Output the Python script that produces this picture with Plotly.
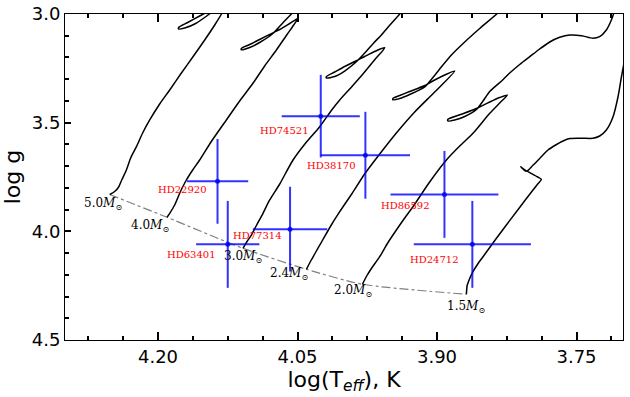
import plotly.graph_objects as go

# Sterne mit Fehlerbalken
star_names = ["HD74521", "HD38170", "HD22920", "HD63401", "HD77314", "HD86592", "HD24712"]
star_logt = [4.025, 3.977, 4.136, 4.125, 4.058, 3.892, 3.862]
star_logt_err = [0.042, 0.048, 0.033, 0.034, 0.040, 0.058, 0.063]
star_logg = [3.47, 3.65, 3.77, 4.06, 3.99, 3.83, 4.06]
star_logg_err = [0.19, 0.20, 0.195, 0.20, 0.195, 0.20, 0.20]

# Entwicklungswege (log Teff, log g)
track_masses = ["5.0", "4.0", "3.0", "2.4", "2.0", "1.5"]

t50_logt = [4.2519, 4.2466, 4.2423, 4.2390, 4.2340, 4.2294, 4.2232, 4.2165, 4.2089, 4.1982,
            4.1874, 4.1756, 4.1624, 4.1498, 4.1390, 4.1318, 4.1272, 4.1240,
            4.1390, 4.1552, 4.1681, 4.1778,
            4.1778, 4.1713, 4.1605, 4.1476, 4.1380, 4.1294]
t50_logg = [3.8305, 3.8167, 3.7960, 3.7638, 3.7178, 3.6626, 3.6106, 3.5476, 3.4877, 3.4141,
            3.3497, 3.2761, 3.1965, 3.1196, 3.0506, 3.0000, 2.9586, 2.9402,
            2.9724, 3.0092, 3.0391, 3.0621,
            3.0690, 3.0644, 3.0460, 3.0092, 2.9770, 2.9494]

t40_logt = [4.1903, 4.1874, 4.1821, 4.1767, 4.1695, 4.1627, 4.1552, 4.1423, 4.1265, 4.1122,
            4.0979, 4.0853, 4.0727, 4.0616, 4.0541, 4.0495,
            4.0584, 4.0691, 4.0764, 4.0907, 4.1014, 4.1103,
            4.1103, 4.1014, 4.0907, 4.0764, 4.0659, 4.0566, 4.0498]
t40_logg = [3.9354, 3.9170, 3.8789, 3.8250, 3.7638, 3.7178, 3.6718, 3.5844, 3.4877, 3.4003,
            3.3189, 3.2393, 3.1656, 3.0966, 3.0506, 3.0198,
            3.0437, 3.0713, 3.0865, 3.1173, 3.1403, 3.1578,
            3.1647, 3.1541, 3.1311, 3.0897, 3.0414, 3.0000, 2.9678]

t30_logt = [4.1086, 4.1046, 4.0996, 4.0939, 4.0871, 4.0799, 4.0691, 4.0548, 4.0412, 4.0261,
            4.0132, 4.0046, 3.9939, 3.9810, 3.9670, 3.9562,
            3.9670, 3.9778, 3.9867, 3.9993, 4.0100, 4.0189,
            4.0189, 4.0100, 3.9993, 3.9867, 3.9767, 3.9681, 3.9598, 3.9487, 3.9401, 3.9337]
t30_logg = [4.0781, 4.0491, 4.0169, 3.9709, 3.9170, 3.8558, 3.7822, 3.6718, 3.5936, 3.5186,
            3.4417, 3.3957, 3.3451, 3.2830, 3.2107, 3.1551,
            3.1726, 3.1956, 3.2153, 3.2416, 3.2669, 3.2876,
            3.2945, 3.2876, 3.2623, 3.2199, 3.1749, 3.1334, 3.0966, 3.0414, 3.0000, 2.9678]

t24_logt = [4.0404, 4.0358, 4.0315, 4.0229, 4.0143, 4.0046, 3.9917, 3.9778, 3.9616, 3.9437,
            3.9240, 3.9025, 3.8810,
            3.8917, 3.9025, 3.9132, 3.9294, 3.9401, 3.9473,
            3.9473, 3.9401, 3.9294, 3.9132, 3.9057, 3.8971, 3.8845, 3.8702, 3.8541, 3.8358, 3.8272]
t24_logg = [4.1747, 4.1365, 4.1043, 4.0399, 3.9755, 3.9097, 3.8282, 3.7362, 3.6442, 3.5476,
            3.4509, 3.3589, 3.2623,
            3.2807, 3.3037, 3.3290, 3.3566, 3.3750, 3.3879,
            3.3948, 3.3888, 3.3704, 3.3359, 3.2991, 3.2531, 3.1886, 3.1288, 3.0667, 3.0000, 2.9632]

t20_logt = [3.9802, 3.9756, 3.9702, 3.9616, 3.9530, 3.9437, 3.9347, 3.9258, 3.9079, 3.8899,
            3.8756, 3.8613, 3.8433, 3.8326, 3.8243,
            3.8326, 3.8433, 3.8576, 3.8738, 3.8882,
            3.8882, 3.8810, 3.8702, 3.8576, 3.8509, 3.8433, 3.8294, 3.8218, 3.8111, 3.8003,
            3.7896, 3.7788, 3.7681, 3.7573, 3.7444, 3.7323, 3.7251, 3.7179, 3.7125, 3.7100, 3.7079]
t20_logg = [4.2437, 4.2055, 4.1687, 4.1167, 4.0537, 3.9939, 3.9387, 3.8867, 3.7730, 3.6718,
            3.6074, 3.5489, 3.4569, 3.4095, 3.3727,
            3.3842, 3.4049, 3.4348, 3.4615, 3.4845,
            3.4923, 3.4877, 3.4716, 3.4394, 3.4026, 3.3566, 3.3037, 3.2715, 3.2324, 3.1965,
            3.1610, 3.1288, 3.1072, 3.0966, 3.0998, 3.1118, 3.1045, 3.0736, 3.0276, 2.9968, 2.9586]

t15_logt = [3.8684, 3.8681, 3.8677, 3.8659, 3.8613, 3.8562, 3.8505, 3.8433, 3.8361, 3.8254,
            3.8146, 3.8051, 3.7968, 3.7917, 3.7878, 3.7917, 3.8003, 3.8068, 3.8100, 3.8068,
            3.8036, 3.7971, 3.7896, 3.7806, 3.7724, 3.7645, 3.7573, 3.7444, 3.7323, 3.7251,
            3.7179, 3.7108, 3.7054, 3.7017, 3.6993, 3.6971]
t15_logg = [4.2897, 4.2700, 4.2516, 4.2285, 4.1857, 4.1503, 4.1167, 4.0744, 4.0321, 3.9709,
            3.9097, 3.8558, 3.8098, 3.7822, 3.7606, 3.7500, 3.7302, 3.7132, 3.7026, 3.7164,
            3.7238, 3.6971, 3.6649, 3.6258, 3.6028, 3.5844, 3.5729, 3.5715, 3.5719, 3.5614,
            3.5338, 3.4739, 3.3819, 3.2899, 3.2347, 3.1886]

tracks = [
    (t50_logt, t50_logg),
    (t40_logt, t40_logg),
    (t30_logt, t30_logg),
    (t24_logt, t24_logg),
    (t20_logt, t20_logg),
    (t15_logt, t15_logg),
]

# Beschriftungsversatz in Pixeln (dx, dy)
star_label_shift = [(-36, 14), (-34, 10), (-35, 8), (-36, 10), (-33, 6), (-39, 11), (-38, 15)]
mass_label_shift = [(-7, 9), (-17, 9), (0, 9), (-17, 5), (-9, 7), (0, 13)]

fig = go.Figure()

# ZAMS (Startpunkte der Wege)
fig.add_trace(
    go.Scatter(
        x=[t[0][0] for t in tracks],
        y=[t[1][0] for t in tracks],
        mode="lines",
        line=dict(color="gray", width=1.2, dash="dashdot", shape="spline", smoothing=0.6),
    )
)

# Entwicklungswege
for lt, lg in tracks:
    fig.add_trace(
        go.Scatter(
            x=lt,
            y=lg,
            mode="lines",
            line=dict(color="black", width=1.5, shape="spline", smoothing=0.7),
        )
    )

# Sterne
fig.add_trace(
    go.Scatter(
        x=star_logt,
        y=star_logg,
        mode="markers",
        marker=dict(color="rgba(0,0,255,0.8)", size=5),
        error_x=dict(type="data", array=star_logt_err, width=0, thickness=2,
                     color="rgba(0,0,255,0.8)"),
        error_y=dict(type="data", array=star_logg_err, width=0, thickness=2,
                     color="rgba(0,0,255,0.8)"),
    )
)

annotations = []
for name, x, y, (dx, dy) in zip(star_names, star_logt, star_logg, star_label_shift):
    annotations.append(dict(
        x=x, y=y, text=name, showarrow=False, xshift=dx, yshift=-dy,
        font=dict(family="DejaVu Serif", size=10, color="red"),
    ))
for m, (lt, lg), (dx, dy) in zip(track_masses, tracks, mass_label_shift):
    annotations.append(dict(
        x=lt[0], y=lg[0], text=f"{m}<i>M</i><sub>⊙</sub>", showarrow=False,
        xshift=dx, yshift=-dy,
        font=dict(family="DejaVu Serif", size=12, color="black"),
    ))

fig.update_layout(
    width=630,
    height=397,
    margin=dict(l=65, r=7, t=14, b=57),
    showlegend=False,
    plot_bgcolor="white",
    paper_bgcolor="white",
    font=dict(family="DejaVu Sans", size=18, color="black"),
    annotations=annotations,
    xaxis=dict(
        range=[4.30, 3.70],
        tick0=3.75,
        dtick=0.15,
        tickformat=".2f",
        ticks="inside",
        ticklen=8,
        tickwidth=2,
        tickcolor="black",
        minor=dict(ticks="inside", ticklen=4, tickwidth=1.5, tickcolor="black",
                   dtick=0.0375, tick0=3.75),
        showline=True,
        linecolor="black",
        linewidth=1,
        mirror="ticks",
        showgrid=False,
        zeroline=False,
        automargin=False,
        title=dict(text="log(T<sub><i>eff</i></sub>), K", standoff=5),
    ),
    yaxis=dict(
        range=[4.5, 3.0],
        tick0=3.0,
        dtick=0.5,
        tickformat=".1f",
        ticks="inside",
        ticklen=6,
        tickwidth=2,
        tickcolor="black",
        minor=dict(ticks="inside", ticklen=3.5, tickwidth=1.5, tickcolor="black",
                   dtick=0.1, tick0=3.0),
        showline=True,
        linecolor="black",
        linewidth=1,
        mirror=True,
        showgrid=False,
        zeroline=False,
        automargin=False,
        title=dict(text="log g", standoff=5),
    ),
)

# Seitenrand entfernen, damit die Grafik bei (0, 0) beginnt
fig.write_html(
    "out.html",
    config={"displayModeBar": False},
    post_script="document.body.style.margin='0px';",
)
